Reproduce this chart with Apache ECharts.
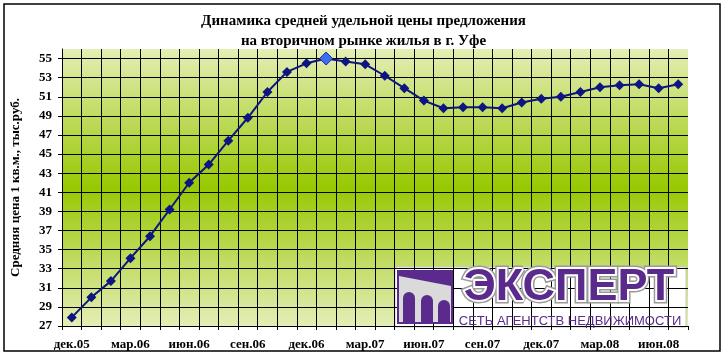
<!DOCTYPE html>
<html>
<head>
<meta charset="utf-8">
<script src="https://cdn.jsdelivr.net/npm/echarts@6/dist/echarts.min.js"></script>
<style>
html,body{margin:0;padding:0;background:#fff;}
#chart{width:727px;height:357px;}
</style>
</head>
<body>
<div id="chart"></div>
<script>
// Data
const months = [
  "дек.05",
  "янв.06","фев.06","мар.06","апр.06","май.06","июн.06","июл.06","авг.06","сен.06","окт.06","ноя.06","дек.06",
  "янв.07","фев.07","мар.07","апр.07","май.07","июн.07","июл.07","авг.07","сен.07","окт.07","ноя.07","дек.07",
  "янв.08","фев.08","мар.08","апр.08","май.08","июн.08","июл.08"
];
const prices = [
  27.9,
  30.0, 31.7, 34.1, 36.4, 39.2, 42.0, 43.9, 46.4, 48.8, 51.5, 53.6, 54.5,
  55.0, 54.7, 54.4, 53.2, 51.9, 50.6, 49.8, 49.9, 49.9, 49.8, 50.4, 50.8,
  51.0, 51.5, 52.0, 52.2, 52.3, 51.9, 52.3
];
const peakMonth = "янв.07";
const titleLines = ["Динамика средней удельной цены предложения", "на вторичном рынке жилья в г. Уфе"];
const yAxisTitle = "Средняя цена 1 кв.м., тыс.руб.";
const logoTitle = "ЭКСПЕРТ";
const logoSubtitle = "СЕТЬ АГЕНТСТВ НЕДВИЖИМОСТИ";

const serif = "'Liberation Serif', 'Times New Roman', serif";
const purple = "#5a2b8c";

const seriesData = prices.map((v, i) => months[i] === peakMonth
  ? { value: v, symbolSize: 13, itemStyle: { color: "#3b6ef0", borderColor: "#1a2f9a", borderWidth: 1 } }
  : v);

const chart = echarts.init(document.getElementById("chart"), null, { renderer: "canvas" });
chart.setOption({
  animation: false,
  backgroundColor: "#ffffff",
  title: {
    text: titleLines.join("\n"),
    left: "center",
    top: 6,
    textStyle: { fontFamily: serif, fontWeight: "bold", fontSize: 15, lineHeight: 20, color: "#000" }
  },
  grid: {
    left: 62, right: 39, top: 49, bottom: 31,
    show: true,
    borderWidth: 0,
    backgroundColor: {
      type: "linear", x: 0, y: 0, x2: 0, y2: 1,
      colorStops: [
        { offset: 0, color: "#e4eeb6" },
        { offset: 0.5, color: "#98c802" },
        { offset: 1, color: "#e4eeb6" }
      ]
    }
  },
  xAxis: {
    type: "category",
    data: months,
    boundaryGap: true,
    axisLine: { show: true, lineStyle: { color: "#000", width: 1 } },
    axisTick: { show: true, interval: 0, length: 4, lineStyle: { color: "#000" } },
    axisLabel: { interval: 2, margin: 12, fontFamily: serif, fontWeight: "bold", fontSize: 13, color: "#000" },
    splitLine: { show: true, interval: 0, showMaxLine: false, lineStyle: { color: "#000", width: 1 } }
  },
  yAxis: {
    type: "value",
    min: 27, max: 56, interval: 2,
    name: yAxisTitle,
    nameLocation: "middle",
    nameRotate: 90,
    nameGap: 40,
    nameTextStyle: { fontFamily: serif, fontWeight: "bold", fontSize: 13, color: "#000" },
    axisLine: { show: true, lineStyle: { color: "#000", width: 1 } },
    axisTick: { show: true, length: 4, lineStyle: { color: "#000" } },
    axisLabel: { margin: 10, showMaxLabel: false, fontFamily: serif, fontWeight: "bold", fontSize: 13, color: "#000" },
    splitLine: { show: true, showMaxLine: false, lineStyle: { color: "#000", width: 1 } }
  },
  series: [{
    type: "line",
    data: seriesData,
    symbol: "diamond",
    symbolSize: 10,
    lineStyle: { color: "#0c1580", width: 2 },
    itemStyle: { color: "#0c1580" },
    z: 3
  }],
  graphic: [
    { type: "rect", shape: { x: 4, y: 4, width: 716, height: 347 }, style: { fill: null, stroke: "#000", lineWidth: 1.5 }, z: 100, silent: true },
    // logo
    { type: "group", z: 50, silent: true, children: [
      { type: "rect", shape: { x: 395, y: 267, width: 291, height: 60 }, style: { fill: "#ffffff", stroke: "#c8c8c8", lineWidth: 1 }, z2: 0 },
      { type: "rect", shape: { x: 397, y: 270, width: 56, height: 54 }, style: { fill: purple }, z2: 1 },
      { type: "rect", shape: { x: 399, y: 272, width: 52, height: 50 }, style: { fill: "#dadada" }, z2: 2 },
      { type: "polygon", shape: { points: [[399,272],[451,272],[451,286],[399,276]] }, style: { fill: purple }, z2: 3 },
      { type: "rect", shape: { x: 403, y: 292, width: 12, height: 30, r: [6,6,0,0] }, style: { fill: purple }, z2: 3 },
      { type: "rect", shape: { x: 421, y: 295, width: 12, height: 27, r: [6,6,0,0] }, style: { fill: purple }, z2: 3 },
      { type: "rect", shape: { x: 438, y: 300, width: 12, height: 22, r: [6,6,0,0] }, style: { fill: purple }, z2: 3 },
      { type: "text", x: 569, y: 288, style: { text: logoTitle, fontFamily: "'Liberation Sans', Arial, sans-serif", fontWeight: 900, fontSize: 45, fill: "none", stroke: "#9a9a9a", lineWidth: 7, align: "center", verticalAlign: "middle" }, z2: 4 },
      { type: "text", x: 569, y: 288, style: { text: logoTitle, fontFamily: "'Liberation Sans', Arial, sans-serif", fontWeight: 900, fontSize: 45, fill: "none", stroke: "#ffffff", lineWidth: 4, align: "center", verticalAlign: "middle" }, z2: 5 },
      { type: "text", x: 569, y: 288, style: { text: logoTitle, fontFamily: "'Liberation Sans', Arial, sans-serif", fontWeight: 900, fontSize: 45, fill: purple, align: "center", verticalAlign: "middle" }, z2: 6 },
      { type: "text", x: 570, y: 321, style: { text: logoSubtitle, fontFamily: "'Liberation Sans', Arial, sans-serif", fontSize: 13, fill: purple, align: "center", verticalAlign: "middle" }, z2: 6 }
    ]}
  ]
});
</script>
</body>
</html>
